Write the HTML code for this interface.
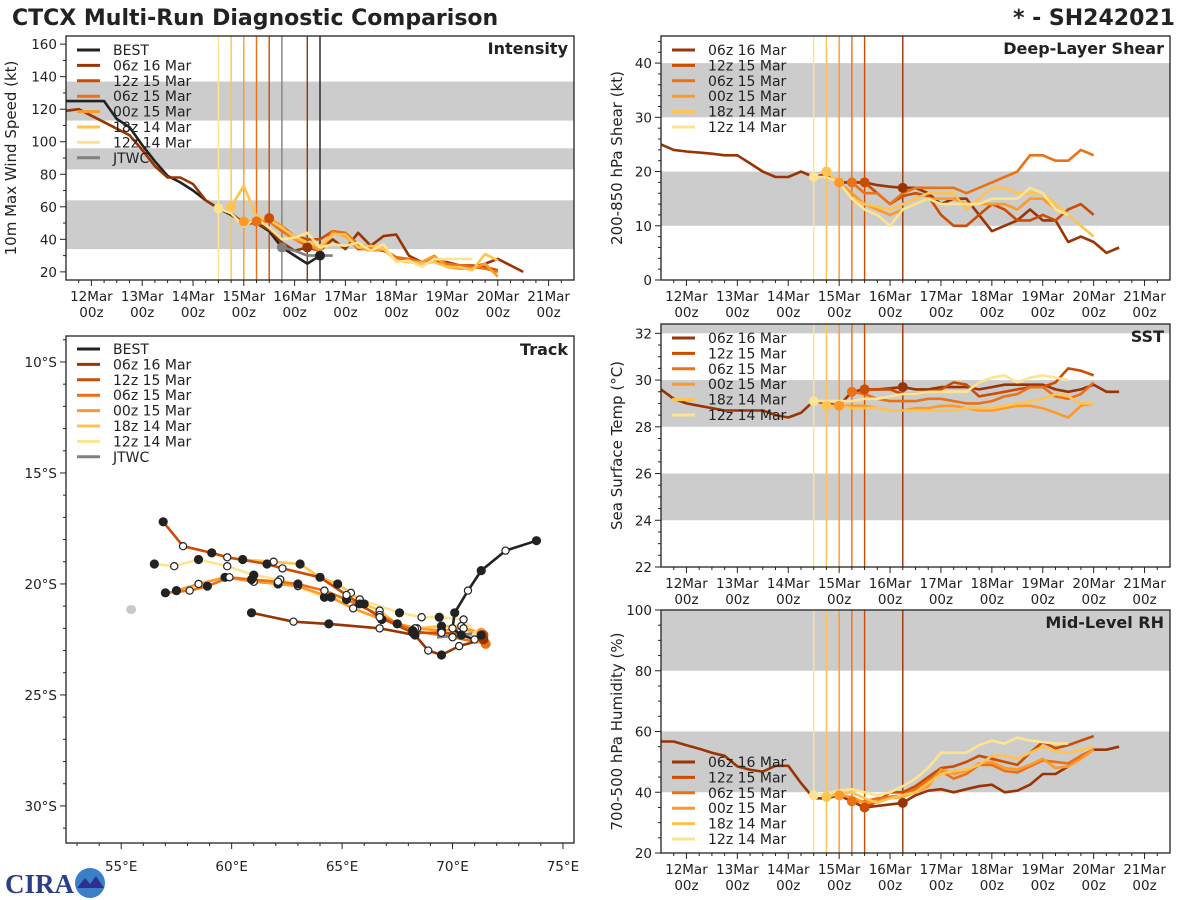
<!DOCTYPE html>
<html><head><meta charset="utf-8"><title>CTCX Multi-Run Diagnostic Comparison</title>
<style>
html,body{margin:0;padding:0;background:#fff;}
svg{display:block;font-family:"DejaVu Sans","Liberation Sans",sans-serif;}
</style></head>
<body>
<svg id="chart" width="1200" height="900" viewBox="0 0 1200 900" xmlns="http://www.w3.org/2000/svg">
<rect width="1200" height="900" fill="#fff"/>
<text x="12" y="25" font-size="22" font-weight="bold" fill="#222">CTCX Multi-Run Diagnostic Comparison</text>
<text x="1175" y="25" font-size="22" font-weight="bold" fill="#222" text-anchor="end">* - SH242021</text>
<g>
<text x="5" y="893" font-size="27" font-weight="bold" fill="#2a3f88" font-family="Liberation Serif,serif">CIRA</text>
<circle cx="90" cy="883" r="15" fill="#3a7fc8"/>
<path d="M77 888 L85 878 L90 884 L96 876 L104 888 Z" fill="#2f2f8f"/>
</g>
</svg>
<script>
// ---------- data ----------
const runNames = ["BEST","06z 16 Mar","12z 15 Mar","06z 15 Mar","00z 15 Mar","18z 14 Mar","12z 14 Mar","JTWC"];
const runColors = ["#222222","#993404","#cc4c02","#ec7014","#fe9929","#fec44f","#fee391","#808080"];
const runStarts = [-0.5,-0.5,3.5,3.25,3.0,2.75,2.5,3.75]; // days from 12Mar 00z
const initTimes = [2.5,2.75,3.0,3.25,3.5,4.25];
const initColors = ["#fee391","#fec44f","#fe9929","#ec7014","#cc4c02","#993404"];
const dayLabels = ["12Mar","13Mar","14Mar","15Mar","16Mar","17Mar","18Mar","19Mar","20Mar","21Mar"];

// Intensity (kt)
const intBEST = [125,125,125,125,114,109,98,88,79,75,70,64,59,55,50,50,45,35,30,25,30];
const int06z16 = [119,120,116,112,108,104,95,85,78,78,74,64,59,56,50,50,46,38,33,35,33,40,34,44,36,42,43,30,26,26,26,24,23,25,28,24,20];
const int12z15 = [53,48,42,40,40,45,43,34,34,33,29,26,26,26,25,24,24,23,21];
const int06z15 = [51,51,45,40,36,33,45,44,37,35,34,29,28,26,29,25,24,23,22,20];
const int00z15 = [51,51,53,48,40,38,33,44,42,35,33,34,27,26,26,30,23,22,22,25,17];
const int18z14 = [60,73,54,52,47,42,38,36,43,43,35,36,34,27,26,25,26,23,23,21,31,27];
const int12z14 = [59,56,48,53,47,40,41,44,35,37,36,38,33,37,26,27,23,28,28,28,28];
const intJTWC = [35,33,30,30,30];

// Shear (kt)
const shr06z16 = [25,24,23.7,23.5,23.3,23,23,21.5,20,19,19,20,19,19.5,18,18,18,17.5,17.2,17,17,16,14,15,15,12,9,10,11,13,11,11,7,8,7,5,6];
const shr12z15 = [18,16,14,15.5,16,15.5,12,10,10,12,14,13,11,11,12,11,13,14,12];
const shr06z15 = [18,16,16,14,16,17,17,17,17,16,17,18,19,20,23,23,22,22,24,23];
const shr00z15 = [18,16,14,13,12,13,14,15,15,15,14,14,14,14,13,15,15,13,12];
const shr18z14 = [20,18,15,14,13.5,13,14,15,16,16,16,13,15,17,17,16,16,16,14,12,10,8];
const shr12z14 = [19,19,18,15,13,12,10,13,14,15,14,14,14,14,15,15,15,17,16,13,12];

// SST (C)
const sst06z16 = [29.6,29.2,29.0,28.9,28.8,28.7,28.7,28.7,28.7,28.5,28.4,28.6,29.1,29.0,28.9,29.5,29.6,29.6,29.65,29.7,29.6,29.6,29.7,29.7,29.7,29.6,29.7,29.8,29.8,29.8,29.8,29.6,29.5,29.6,29.8,29.5,29.5];
const sst12z15 = [29.6,29.6,29.6,29.4,29.4,29.5,29.6,29.9,29.8,29.3,29.4,29.5,29.6,29.7,29.7,29.9,30.5,30.4,30.2];
const sst06z15 = [29.5,29.4,29.2,29.1,29.1,29.1,29.2,29.2,29.1,29.0,29.0,29.1,29.3,29.4,29.7,29.7,29.3,29.2,29.4,29.9];
const sst00z15 = [28.9,28.9,28.9,28.8,28.7,28.7,28.8,28.8,28.9,28.9,28.8,28.7,28.7,28.8,28.9,28.9,28.8,28.6,28.4,28.9,29.0];
const sst18z14 = [28.9,28.9,28.8,28.8,28.8,28.7,28.7,28.7,28.7,28.7,28.7,28.8,28.8,28.8,28.9,29.0,29.1,29.2,29.4,29.3,29.0,29.0];
const sst12z14 = [29.1,29.1,29.1,29.1,29.2,29.2,29.3,29.4,29.4,29.5,29.5,29.5,29.5,29.9,30.1,30.2,29.9,30.1,30.2,30.1,30.0];

// RH (%)
const rh06z16 = [56.7,56.7,55.5,54.3,53,52,48.5,47.4,46.8,48.7,48.7,43,38,38,39,37,35,35.5,36,36.5,39,40.5,41,40,41,42,42.5,40,40.5,42.5,46,46,48.5,52,54,54,55];
const rh12z15 = [35,37,40,40,42,45,48,48.5,50,52,51,50,49,53,56.5,54.5,55.5,57,58.5];
const rh06z15 = [37,37,38,38.5,39,41,44,47,44.5,46,49,49,47,46.5,48.5,50.5,50,49.5,52,54];
const rh00z15 = [39,38.5,36.5,37,38,38.5,40,42,47.5,46,47,49.5,50,48,47.5,49,51,48,48.5,51,54];
const rh18z14 = [38.5,39.5,40,38,36.5,38,39,40,43,46,47,47.5,49,52,52,51,53,55,53.5,53,54,55];
const rh12z14 = [39,39.5,40.5,41,40,39,40,42,44.5,48,53,53,53,55.5,57,56,58,57,56.5,56,56];

// Tracks: [lonE, latS]
const trkBEST = [[73.8,18.05],[72.4,18.5],[71.3,19.4],[70.7,20.3],[70.1,21.3],[70.0,22.0],[70.4,22.3],[71.0,22.5],[71.3,22.3]];
const trk06z16 = [[71.4,22.5],[70.3,22.8],[69.5,23.2],[68.9,23.0],[68.3,22.3],[66.7,22.0],[64.4,21.8],[62.8,21.7],[60.9,21.3]];
const trk12z15 = [[71.4,22.3],[69.5,22.2],[68.2,22.2],[66.7,21.5],[65.8,20.9],[65.2,20.5],[64.0,19.7],[62.3,19.3],[61.6,19.1],[59.8,18.8],[59.1,18.6],[57.8,18.3],[56.9,17.2]];
const trk06z15 = [[71.5,22.7],[70.0,22.4],[68.2,22.1],[66.7,21.4],[65.2,20.7],[64.2,20.3],[63.0,20.0],[62.1,19.9],[60.9,19.8],[59.9,19.7],[58.9,20.1],[58.1,20.3],[57.0,20.4]];
const trk00z15 = [[71.3,22.2],[70.5,22.0],[69.5,22.1],[68.3,22.0],[66.8,21.6],[65.5,21.1],[64.5,20.6],[63.0,20.1],[62.1,20.0],[61.0,19.9],[59.7,19.7],[58.5,20.0],[57.5,20.3]];
const trk18z14 = [[71.3,22.5],[70.4,21.9],[69.5,21.9],[68.4,22.0],[67.5,21.8],[66.7,21.2],[66.0,20.9],[65.4,20.4],[64.8,20.0],[64.0,19.7],[63.1,19.1],[61.9,19.0],[60.5,18.9]];
const trk12z14 = [[71.1,22.3],[70.5,21.6],[69.4,21.5],[68.6,21.5],[67.6,21.3],[65.8,20.7],[64.2,20.6],[62.2,19.8],[61.0,19.6],[59.8,19.2],[58.5,18.9],[57.4,19.2],[56.5,19.1]];
const trkJTWC = [[71.4,22.2],[70.3,22.3],[69.3,22.4]];

// ---------- drawing ----------
const NS = "http://www.w3.org/2000/svg";
const svg = document.getElementById("chart");
function mk(tag, attrs, parent){
  const e = document.createElementNS(NS, tag);
  for (const k in attrs) e.setAttribute(k, attrs[k]);
  (parent||svg).appendChild(e);
  return e;
}
const TMIN=-0.5, TMAX=9.5;

function timePanel(p){
  const g = mk("g",{});
  
  
  const xs = t => p.x0 + (t-TMIN)/(TMAX-TMIN)*(p.x1-p.x0);
  const ys = v => p.y1 - (v-p.ymin)/(p.ymax-p.ymin)*(p.y1-p.y0);
  p.bands.forEach(b=>{
    const top = ys(Math.min(b[1],p.ymax)), bot = ys(b[0]);
    const r = mk("rect",{x:p.x0,y:top,width:p.x1-p.x0,height:bot-top,fill:"#cccccc"},g);
    
    
  });
  p.vlines.forEach(v=>{
    const l = mk("line",{x1:xs(v[0]),x2:xs(v[0]),y1:p.y0,y2:p.y1,stroke:v[1],"stroke-width":1.4},g);
    
    
  });
  p.series.forEach(s=>{
    const pts = s.vals.map((v,i)=>xs(s.start+0.25*i).toFixed(1)+","+ys(v).toFixed(1)).join(" ");
    const pl = mk("polyline",{points:pts,fill:"none",stroke:s.color,"stroke-width":2.6,"stroke-linejoin":"round"},g);
    
    
  });
  p.series.forEach(s=>{
    if (!s.dot) return;
    const c = mk("circle",{cx:xs(s.dotT),cy:ys(s.vals[Math.round((s.dotT-s.start)/0.25)]),r:5,fill:s.color},g);
    
    
  });
  const fr = mk("rect",{x:p.x0,y:p.y0,width:p.x1-p.x0,height:p.y1-p.y0,fill:"none",stroke:"#222","stroke-width":1.3},g);
  
  
  for (let t=-0.25; t<TMAX; t+=0.25){
    const major = Math.abs(t-Math.round(t))<1e-6;
    mk("line",{x1:xs(t),x2:xs(t),y1:p.y1,y2:p.y1+(major?6:3),stroke:"#222","stroke-width":1},g);
  }
  if (p.xlabels){
    dayLabels.forEach((d,i)=>{
      const tx = mk("text",{x:xs(i),y:p.y1+21,"font-size":13.5,"text-anchor":"middle",fill:"#222"},g);
      tx.textContent = d;
      
      
      const tz = mk("text",{x:xs(i),y:p.y1+37,"font-size":13.5,"text-anchor":"middle",fill:"#222"},g);
      tz.textContent = "00z";
      
      
    });
  }
  for (let v=Math.ceil(p.ymin/p.minor)*p.minor; v<=p.ymax+1e-6; v+=p.minor){
    const major = Math.abs(v/p.major-Math.round(v/p.major))<1e-6;
    mk("line",{x1:p.x0,x2:p.x0-(major?6:3),y1:ys(v),y2:ys(v),stroke:"#222","stroke-width":1},g);
  }
  p.yticks.forEach(v=>{
    const tx = mk("text",{x:p.x0-9,y:ys(v)+5,"font-size":13.5,"text-anchor":"end",fill:"#222"},g);
    tx.textContent = v;
    
    
  });
  const yl = mk("text",{x:0,y:0,"font-size":15,"text-anchor":"middle",fill:"#222",transform:`translate(${p.ylx},${(p.y0+p.y1)/2}) rotate(-90)`},g);
  yl.textContent = p.ylabel;
  
  
  const tt = mk("text",{x:p.x1-6,y:p.y0+18,"font-size":16,"font-weight":"bold","text-anchor":"end",fill:"#222"},g);
  tt.textContent = p.title;
  
  
  legend(g, p.x0+11, p.legY, p.legItems);
}
function legend(g, x, y, items){
  items.forEach((it,i)=>{
    const yy = y + i*15.4;
    const l = mk("line",{x1:x,x2:x+23,y1:yy,y2:yy,stroke:it[1],"stroke-width":3},g);
    
    
    const t = mk("text",{x:x+36,y:yy+5,"font-size":14,fill:"#222"},g);
    t.textContent = it[0];
    
    
  });
}
function mkSeries(arrs, keys, idxs, dots){
  return arrs.map((a,j)=>({vals:a,key:keys[j],start:runStarts[idxs[j]],color:runColors[idxs[j]],dot:dots,dotT:idxs[j]===1?4.25:runStarts[idxs[j]]}));
}
const fcKeys = ["06z16","12z15","06z15","00z15","18z14","12z14"];
const fcIdx = [1,2,3,4,5,6];
const vl = initTimes.map((t,i)=>[t,initColors[i]]);
const fcLeg = fcIdx.map(i=>[runNames[i],runColors[i]]);

timePanel({name:"intensity-panel",x0:66,x1:574,y0:36,y1:280,ymin:15,ymax:165,major:20,minor:10,
  yticks:[20,40,60,80,100,120,140,160],bands:[[34,64],[83,96],[113,137]],
  vlines:vl.concat([[3.75,"#808080"],[4.5,"#222222"]]),
  series:[{vals:intBEST,key:"best",start:-0.5,color:runColors[0],dot:true,dotT:4.5}]
    .concat(mkSeries([int06z16,int12z15,int06z15,int00z15,int18z14,int12z14],fcKeys,fcIdx,true))
    .concat([{vals:intJTWC,key:"jtwc",start:3.75,color:runColors[7],dot:true,dotT:3.75}]),
  xlabels:true,ylabel:"10m Max Wind Speed (kt)",ylx:16,title:"Intensity",legY:50,
  legItems:runNames.map((n,i)=>[n,runColors[i]])});
timePanel({name:"shear-panel",x0:661,x1:1170,y0:36,y1:280,ymin:0,ymax:45,major:10,minor:2,
  yticks:[0,10,20,30,40],bands:[[10,20],[30,40]],vlines:vl,
  series:mkSeries([shr06z16,shr12z15,shr06z15,shr00z15,shr18z14,shr12z14],fcKeys,fcIdx,true),
  xlabels:true,ylabel:"200-850 hPa Shear (kt)",ylx:622,title:"Deep-Layer Shear",legY:50,legItems:fcLeg});
timePanel({name:"sst-panel",x0:661,x1:1170,y0:324,y1:567,ymin:22,ymax:32.4,major:2,minor:0.5,
  yticks:[22,24,26,28,30,32],bands:[[24,26],[28,30],[32,33]],vlines:vl,
  series:mkSeries([sst06z16,sst12z15,sst06z15,sst00z15,sst18z14,sst12z14],fcKeys,fcIdx,true),
  xlabels:true,ylabel:"Sea Surface Temp (°C)",ylx:622,title:"SST",legY:338,legItems:fcLeg});
timePanel({name:"rh-panel",x0:661,x1:1170,y0:610,y1:853,ymin:20,ymax:100,major:20,minor:5,
  yticks:[20,40,60,80,100],bands:[[40,60],[80,100]],vlines:vl,
  series:mkSeries([rh06z16,rh12z15,rh06z15,rh00z15,rh18z14,rh12z14],fcKeys,fcIdx,true),
  xlabels:true,ylabel:"700-500 hPa Humidity (%)",ylx:622,title:"Mid-Level RH",legY:762,legItems:fcLeg});

// Track panel
(function(){
  const X0=66,X1=574,Y0=336,Y1=843;
  const LON0=52.5,LON1=75.5,LAT0=8.83,LAT1=31.67;
  const lx = lon => X0+(lon-LON0)/(LON1-LON0)*(X1-X0);
  const ly = lat => Y0+(lat-LAT0)/(LAT1-LAT0)*(Y1-Y0);
  const g = mk("g",{});
  
  
  [[55.45,21.15,5,4.5],[57.55,20.25,3.5,3]].forEach(is=>{
    const e = mk("ellipse",{cx:lx(is[0]),cy:ly(is[1]),rx:is[2],ry:is[3],fill:"#c8c8c8"},g);
    
    
  });
  const tracks = [trkBEST,trk06z16,trk12z15,trk06z15,trk00z15,trk18z14,trk12z14,trkJTWC];
  const order = [6,5,4,3,2,1,7,0];
  order.forEach(i=>{
    const tr = tracks[i];
    const pl = mk("polyline",{points:tr.map(p=>lx(p[0]).toFixed(1)+","+ly(p[1]).toFixed(1)).join(" "),fill:"none",stroke:runColors[i],"stroke-width":i===7?3:2.6,"stroke-linejoin":"round"},g);
    
    
  });
  order.forEach(i=>{
    if (i===7) return;
    tracks[i].forEach((p,k)=>{
      if (k===0 && i>0){
        const c0 = mk("circle",{cx:lx(p[0]),cy:ly(p[1]),r:5,fill:runColors[i]},g);
        
        
        return;
      }
      const filled = k%2===0;
      const c = mk("circle",{cx:lx(p[0]),cy:ly(p[1]),r:filled?4:3.6,fill:filled?"#222":"#fff",stroke:"#222","stroke-width":1.2},g);
      
      
    });
  });
  const fr = mk("rect",{x:X0,y:Y0,width:X1-X0,height:Y1-Y0,fill:"none",stroke:"#222","stroke-width":1.3},g);
  
  
  const lonTicks=[55,60,65,70,75], latTicks=[10,15,20,25,30];
  for (let lon=53; lon<=75; lon++) mk("line",{x1:lx(lon),x2:lx(lon),y1:Y1,y2:Y1+(lon%5===0?6:3),stroke:"#222"},g);
  for (let lat=9; lat<=31; lat++) mk("line",{x1:X0,x2:X0-(lat%5===0?6:3),y1:ly(lat),y2:ly(lat),stroke:"#222"},g);
  lonTicks.forEach(v=>{
    const t = mk("text",{x:lx(v),y:Y1+28,"font-size":13.5,"text-anchor":"middle",fill:"#222"},g);
    t.textContent = v+"°E";
    
    
  });
  latTicks.forEach(v=>{
    const t = mk("text",{x:X0-9,y:ly(v)+5,"font-size":13.5,"text-anchor":"end",fill:"#222"},g);
    t.textContent = v+"°S";
    
    
  });
  const tt = mk("text",{x:X1-6,y:Y0+19,"font-size":16,"font-weight":"bold","text-anchor":"end",fill:"#222"},g);
  tt.textContent = "Track";
  
  
  legend(g, 77, 349, runNames.map((n,i)=>[n,runColors[i]]));
})();
</script>
</body></html>
